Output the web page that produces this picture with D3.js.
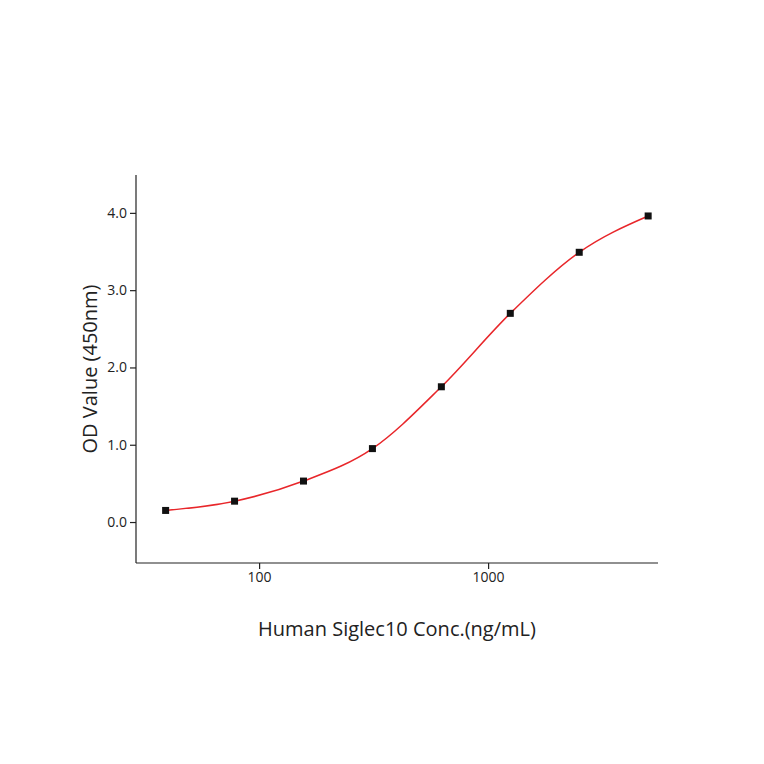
<!DOCTYPE html>
<html><head><meta charset="utf-8">
<script src="https://cdn.jsdelivr.net/npm/d3@7"></script>
<style>body{margin:0;background:#fff}</style></head>
<body><svg id="c" width="764" height="764"></svg>
<script>
const conc = [39.0625, 78.125, 156.25, 312.5, 625, 1250, 2500, 5000];
const od = [0.15, 0.27, 0.53, 0.95, 1.75, 2.70, 3.49, 3.96];
const yTicks = [0, 1, 2, 3, 4];
const xTicks = [100, 1000];

const svg = d3.select("#c");
const x = d3.scaleLog().domain([29, 5520]).range([136, 658]);
const y = d3.scaleLinear().domain([-0.53, 4.49]).range([563, 175]);

const font = "Open Sans, Arial, sans-serif";
const gx = svg.append("g").attr("transform", "translate(0,563)")
  .call(d3.axisBottom(x).tickValues(xTicks).tickFormat(d3.format("d")).tickSizeOuter(0).tickSize(6));
const gy = svg.append("g").attr("transform", "translate(136,0)")
  .call(d3.axisLeft(y).tickValues(yTicks).tickSizeOuter(0).tickSize(6));
[gx, gy].forEach(g => {
  g.selectAll("text").attr("font-family", font).attr("font-size", 14).attr("fill", "#222");
  g.selectAll("path,line").attr("stroke", "#222").attr("stroke-width", 1.2);
});
gx.select(".domain").attr("d", "M136,0H658");
gy.select(".domain").attr("d", "M0,175V563");

const line = d3.line().x(d => x(d[0])).y(d => y(d[1])).curve(d3.curveMonotoneX);
svg.append("path").datum(conc.map((c, i) => [c, od[i]]))
  .attr("d", line).attr("fill", "none").attr("stroke", "#e8262a").attr("stroke-width", 1.5);

svg.selectAll("rect.p").data(conc).join("rect")
  .attr("x", (d) => x(d) - 3.5).attr("y", (d, i) => y(od[i]) - 3.5)
  .attr("width", 7).attr("height", 7).attr("fill", "#111");

svg.append("text").attr("x", 397).attr("y", 636).attr("text-anchor", "middle")
  .attr("font-family", font).attr("font-size", 20).attr("fill", "#222")
  .text("Human Siglec10 Conc.(ng/mL)");
svg.append("text").attr("transform", "translate(97,369) rotate(-90)").attr("text-anchor", "middle")
  .attr("font-family", font).attr("font-size", 20).attr("fill", "#222")
  .text("OD Value (450nm)");
</script></body></html>
